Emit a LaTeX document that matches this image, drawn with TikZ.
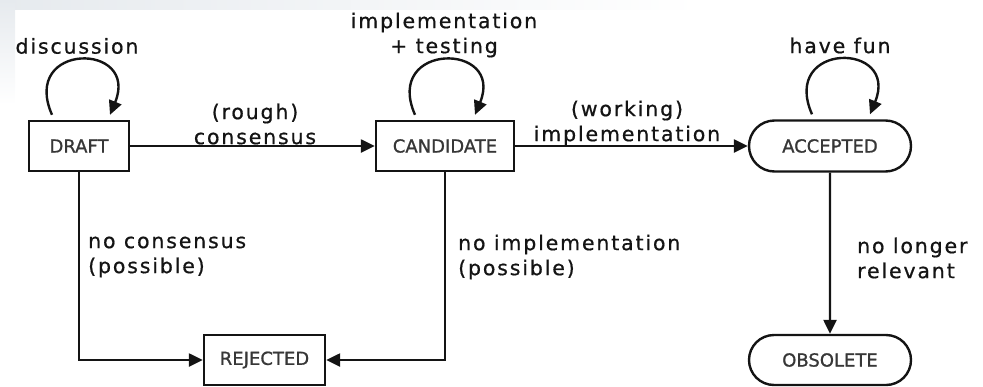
\documentclass[tikz,border=0pt]{standalone}
\usepackage{fontspec}
\setmainfont{DejaVu Sans}
\newfontfamily\lblfont[LetterSpace=9,FakeBold=0.7]{DejaVu Sans}
\newfontfamily\statefont[FakeBold=1.0]{DejaVu Sans}
\usetikzlibrary{arrows.meta,shapes.misc}
\definecolor{ink}{RGB}{20,20,20}
\definecolor{bgtint}{RGB}{230,234,238}
\begin{document}
\begin{tikzpicture}[x=1pt,y=-1pt,
  state/.style={draw=ink, line width=2.4pt, minimum height=50pt, inner sep=0pt, text=ink!85,
    font=\statefont\fontsize{18}{20}\selectfont},
  rstate/.style={state, rounded rectangle},
  arr/.style={draw=ink, line width=2.4pt, -{Triangle[length=14pt,width=13pt]}},
  lbl/.style={font=\lblfont\fontsize{20.5}{25}\selectfont, inner sep=0pt, text=ink}]
\useasboundingbox (0,0) rectangle (983,386);
% faint page background at the top-left corner
\shade[left color=bgtint, right color=white] (0,0) rectangle (700,9);
\shade[top color=bgtint, bottom color=white] (0,0) rectangle (15,105);

% states
\node[state, minimum width=100pt] (draft) at (79,146) {DRAFT};
\node[state, minimum width=138pt] (cand) at (445,146) {CANDIDATE};
\node[rstate, minimum width=162pt, minimum height=51pt] (acc) at (830,146) {ACCEPTED};
\node[state, minimum width=121pt] (rej) at (264.5,360) {REJECTED};
\node[rstate, minimum width=162pt] (obs) at (830,360) {OBSOLETE};

% transitions
\draw[arr] (draft) -- (cand);
\draw[arr] (cand) -- (acc);
\draw[arr] (draft.south) |- (rej.west);
\draw[arr] (cand.south) |- (rej.east);
\draw[arr] (acc) -- (obs);

% self loops
\draw[arr] ([xshift=-27pt,yshift=5pt]draft.north) .. controls +(-32,-73) and +(30,-73) .. ([xshift=31pt,yshift=5pt]draft.north);
\draw[arr] ([xshift=-30pt,yshift=5pt]cand.north) .. controls +(-32,-73) and +(30,-73) .. ([xshift=30pt,yshift=5pt]cand.north);
\draw[arr] ([xshift=-18pt,yshift=5pt]acc.north) .. controls +(-32,-73) and +(30,-73) .. ([xshift=40pt,yshift=5pt]acc.north);

% labels
\node[lbl] (ldisc) at (77,46) {discussion};
\node[lbl, align=center] (limpl) at (444,35) {implementation\\+ testing};
\node[lbl] (lfun) at (840,45.5) {have fun};
\node[lbl, align=center] (lrough) at (255,124) {(rough)\\consensus};
\node[lbl, align=center] (lwork) at (627,123) {(working)\\implementation};
\node[lbl, align=left, anchor=west] (lnocons) at (88,257) {no consensus\\(possible)};
\node[lbl, align=left, anchor=west] (lnoimpl) at (458,257) {no implementation\\(possible)};
\node[lbl, align=left, anchor=west] (lnolong) at (857,258) {no longer\\relevant};
\end{tikzpicture}
\end{document}
